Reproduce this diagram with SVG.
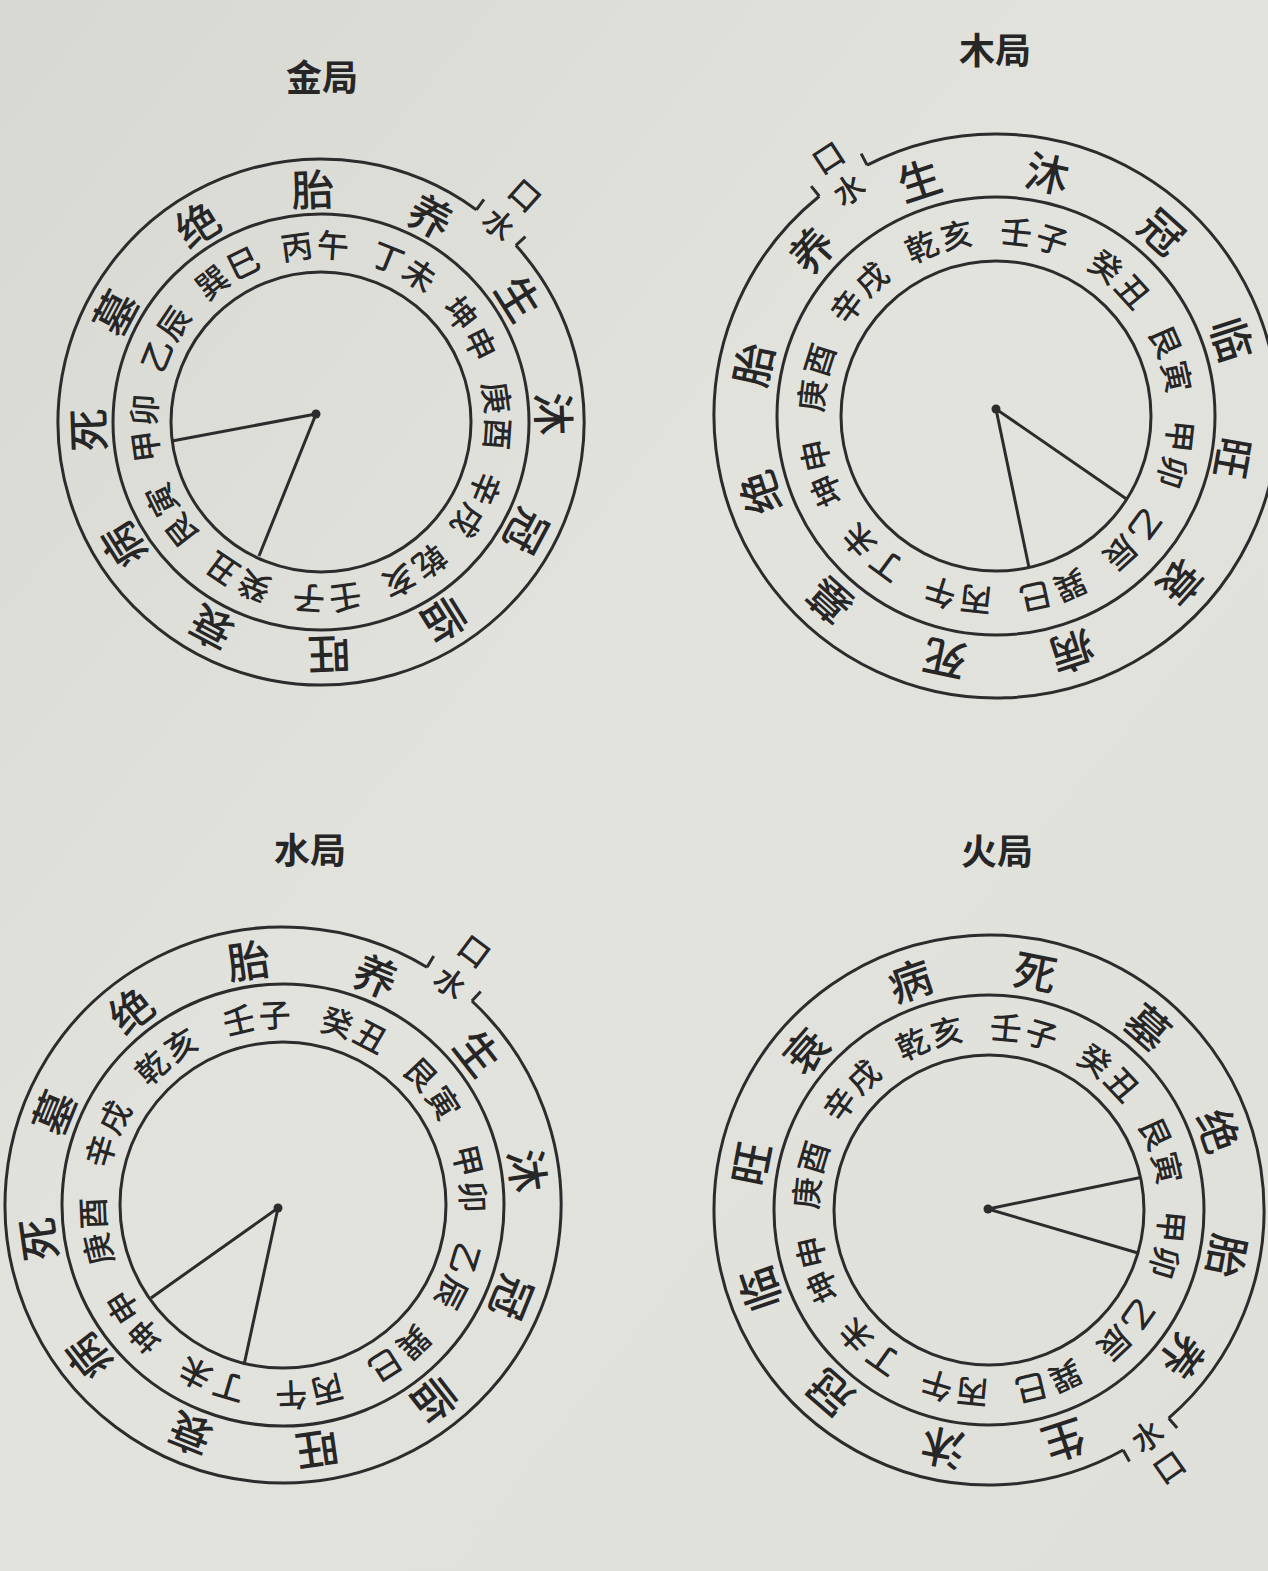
<svg xmlns="http://www.w3.org/2000/svg" width="1268" height="1571" viewBox="0 0 1268 1571">
<defs>
<linearGradient id="paper" x1="0" y1="0" x2="1" y2="1">
<stop offset="0" stop-color="#d7d8d2"/>
<stop offset="0.45" stop-color="#e3e3de"/>
<stop offset="1" stop-color="#e0e0db"/>
</linearGradient>
</defs>
<style>
.t{font-family:"Noto Sans CJK SC","Noto Sans CJK JP",sans-serif;fill:#262626;text-anchor:middle;dominant-baseline:central;font-weight:500}
.title{font-size:36px;font-weight:bold}
.o{font-size:43px}
.i{font-size:32px}
.w{font-size:31px}
.ln{fill:none;stroke:#2c2c2c;stroke-width:3}
.dot{fill:#2c2c2c}
</style>
<rect width="1268" height="1571" fill="url(#paper)"/>

<g id="titles">
<text class="t title" x="322" y="75">金局</text>
<text class="t title" x="995" y="48">木局</text>
<text class="t title" x="310" y="848">水局</text>
<text class="t title" x="997" y="849">火局</text>
</g>

<!-- 金局 -->
<g id="jin" transform="translate(321 422)">
<circle class="ln" r="208"/>
<circle class="ln" r="150"/>
<g id="jin-shuikou" transform="rotate(42)">
<path class="ln" d="M26.58 -261.65A263 263 0 1 1 -26.58 -261.65M26.58 -261.65L27.89 -274.59M-26.58 -261.65L-27.89 -274.59"/>
<text class="t w" transform="translate(0 -268)">水</text>
<text class="t w" transform="translate(0 -307)">口</text>
</g>
<g id="jin-outer">
<text class="t o" transform="rotate(-2) translate(0 -235.5)">胎</text>
<text class="t o" transform="rotate(28) translate(0 -235.5)">养</text>
<text class="t o" transform="rotate(58) translate(0 -235.5)">生</text>
<text class="t o" transform="rotate(88) translate(0 -235.5)">沐</text>
<text class="t o" transform="rotate(118) translate(0 -235.5)">冠</text>
<text class="t o" transform="rotate(148) translate(0 -235.5)">临</text>
<text class="t o" transform="rotate(178) translate(0 -235.5)">旺</text>
<text class="t o" transform="rotate(208) translate(0 -235.5)">衰</text>
<text class="t o" transform="rotate(238) translate(0 -235.5)">病</text>
<text class="t o" transform="rotate(268) translate(0 -235.5)">死</text>
<text class="t o" transform="rotate(298) translate(0 -235.5)">墓</text>
<text class="t o" transform="rotate(328) translate(0 -235.5)">绝</text>
</g>
<g id="jin-inner">
<text class="t i" transform="rotate(-7.9) translate(0 -179)">丙</text>
<text class="t i" transform="rotate(3.9) translate(0 -179)">午</text>
<text class="t i" transform="rotate(22.1) translate(0 -179)">丁</text>
<text class="t i" transform="rotate(33.9) translate(0 -179)">未</text>
<text class="t i" transform="rotate(52.1) translate(0 -179)">坤</text>
<text class="t i" transform="rotate(63.9) translate(0 -179)">申</text>
<text class="t i" transform="rotate(82.1) translate(0 -179)">庚</text>
<text class="t i" transform="rotate(93.9) translate(0 -179)">酉</text>
<text class="t i" transform="rotate(112.1) translate(0 -179)">辛</text>
<text class="t i" transform="rotate(123.9) translate(0 -179)">戌</text>
<text class="t i" transform="rotate(142.1) translate(0 -179)">乾</text>
<text class="t i" transform="rotate(153.9) translate(0 -179)">亥</text>
<text class="t i" transform="rotate(172.1) translate(0 -179)">壬</text>
<text class="t i" transform="rotate(183.9) translate(0 -179)">子</text>
<text class="t i" transform="rotate(202.1) translate(0 -179)">癸</text>
<text class="t i" transform="rotate(213.9) translate(0 -179)">丑</text>
<text class="t i" transform="rotate(232.1) translate(0 -179)">艮</text>
<text class="t i" transform="rotate(243.9) translate(0 -179)">寅</text>
<text class="t i" transform="rotate(262.1) translate(0 -179)">甲</text>
<text class="t i" transform="rotate(273.9) translate(0 -179)">卯</text>
<text class="t i" transform="rotate(292.1) translate(0 -179)">乙</text>
<text class="t i" transform="rotate(303.9) translate(0 -179)">辰</text>
<text class="t i" transform="rotate(322.1) translate(0 -179)">巽</text>
<text class="t i" transform="rotate(333.9) translate(0 -179)">巳</text>
</g>
<g id="jin-lines">
<path class="ln" d="M-149 19L-5 -8L-62 134"/>
<circle class="dot" cx="-5" cy="-8" r="4.5"/>
</g>
</g>

<!-- 木局 -->
<g id="mu" transform="translate(996 416)">
<circle class="ln" r="219"/>
<circle class="ln" r="155"/>
<g id="mu-shuikou" transform="rotate(327)">
<path class="ln" d="M28.50 -280.56A282 282 0 1 1 -28.50 -280.56M28.50 -280.56L29.81 -293.49M-28.50 -280.56L-29.81 -293.49"/>
<text class="t w" transform="translate(0 -272)">水</text>
<text class="t w" transform="translate(0 -310)">口</text>
</g>
<g id="mu-outer">
<text class="t o" transform="rotate(12) translate(0 -250.5)">沐</text>
<text class="t o" transform="rotate(42) translate(0 -250.5)">冠</text>
<text class="t o" transform="rotate(72) translate(0 -250.5)">临</text>
<text class="t o" transform="rotate(100) translate(0 -243)" style="font-size:41px">旺</text>
<text class="t o" transform="rotate(132) translate(0 -250.5)">衰</text>
<text class="t o" transform="rotate(162) translate(0 -250.5)">病</text>
<text class="t o" transform="rotate(192) translate(0 -250.5)">死</text>
<text class="t o" transform="rotate(222) translate(0 -250.5)">墓</text>
<text class="t o" transform="rotate(252) translate(0 -250.5)">绝</text>
<text class="t o" transform="rotate(282) translate(0 -250.5)">胎</text>
<text class="t o" transform="rotate(312) translate(0 -250.5)">养</text>
<text class="t o" transform="rotate(342) translate(0 -250.5)">生</text>
</g>
<g id="mu-inner">
<text class="t i" transform="rotate(6.3) translate(0 -187)">壬</text>
<text class="t i" transform="rotate(17.7) translate(0 -187)">子</text>
<text class="t i" transform="rotate(36.3) translate(0 -187)">癸</text>
<text class="t i" transform="rotate(47.7) translate(0 -187)">丑</text>
<text class="t i" transform="rotate(66.3) translate(0 -187)">艮</text>
<text class="t i" transform="rotate(77.7) translate(0 -187)">寅</text>
<text class="t i" transform="rotate(96.3) translate(0 -187)">甲</text>
<text class="t i" transform="rotate(107.7) translate(0 -187)">卯</text>
<text class="t i" transform="rotate(126.3) translate(0 -187)">乙</text>
<text class="t i" transform="rotate(137.7) translate(0 -187)">辰</text>
<text class="t i" transform="rotate(156.3) translate(0 -187)">巽</text>
<text class="t i" transform="rotate(167.7) translate(0 -187)">巳</text>
<text class="t i" transform="rotate(186.3) translate(0 -187)">丙</text>
<text class="t i" transform="rotate(197.7) translate(0 -187)">午</text>
<text class="t i" transform="rotate(216.3) translate(0 -187)">丁</text>
<text class="t i" transform="rotate(227.7) translate(0 -187)">未</text>
<text class="t i" transform="rotate(246.3) translate(0 -187)">坤</text>
<text class="t i" transform="rotate(257.7) translate(0 -187)">申</text>
<text class="t i" transform="rotate(276.3) translate(0 -187)">庚</text>
<text class="t i" transform="rotate(287.7) translate(0 -187)">酉</text>
<text class="t i" transform="rotate(306.3) translate(0 -187)">辛</text>
<text class="t i" transform="rotate(317.7) translate(0 -187)">戌</text>
<text class="t i" transform="rotate(336.3) translate(0 -187)">乾</text>
<text class="t i" transform="rotate(347.7) translate(0 -187)">亥</text>
</g>
<g id="mu-lines">
<path class="ln" d="M130.5 83L0 -7L33 151.5"/>
<circle class="dot" cx="0" cy="-7" r="4.5"/>
</g>
</g>

<!-- 水局 -->
<g id="shui" transform="translate(283 1205)">
<circle class="ln" r="221"/>
<circle class="ln" r="163"/>
<g id="shui-shuikou" transform="rotate(37)">
<path class="ln" d="M28.09 -276.58A278 278 0 1 1 -28.09 -276.58M28.09 -276.58L29.41 -289.51M-28.09 -276.58L-29.41 -289.51"/>
<text class="t w" transform="translate(0 -280)">水</text>
<text class="t w" transform="translate(0 -320)">口</text>
</g>
<g id="shui-outer">
<text class="t o" transform="rotate(-8) translate(0 -249.5)">胎</text>
<text class="t o" transform="rotate(22) translate(0 -249.5)">养</text>
<text class="t o" transform="rotate(52) translate(0 -249.5)">生</text>
<text class="t o" transform="rotate(82) translate(0 -249.5)">沐</text>
<text class="t o" transform="rotate(112) translate(0 -249.5)">冠</text>
<text class="t o" transform="rotate(142) translate(0 -249.5)">临</text>
<text class="t o" transform="rotate(172) translate(0 -249.5)">旺</text>
<text class="t o" transform="rotate(202) translate(0 -249.5)">衰</text>
<text class="t o" transform="rotate(232) translate(0 -249.5)">病</text>
<text class="t o" transform="rotate(262) translate(0 -249.5)">死</text>
<text class="t o" transform="rotate(292) translate(0 -249.5)">墓</text>
<text class="t o" transform="rotate(322) translate(0 -249.5)">绝</text>
</g>
<g id="shui-inner">
<text class="t i" transform="rotate(-13.5) translate(0 -192)">壬</text>
<text class="t i" transform="rotate(-2.5) translate(0 -192)">子</text>
<text class="t i" transform="rotate(16.5) translate(0 -192)">癸</text>
<text class="t i" transform="rotate(27.5) translate(0 -192)">丑</text>
<text class="t i" transform="rotate(46.5) translate(0 -192)">艮</text>
<text class="t i" transform="rotate(57.5) translate(0 -192)">寅</text>
<text class="t i" transform="rotate(76.5) translate(0 -192)">甲</text>
<text class="t i" transform="rotate(87.5) translate(0 -192)">卯</text>
<text class="t i" transform="rotate(106.5) translate(0 -192)">乙</text>
<text class="t i" transform="rotate(117.5) translate(0 -192)">辰</text>
<text class="t i" transform="rotate(136.5) translate(0 -192)">巽</text>
<text class="t i" transform="rotate(147.5) translate(0 -192)">巳</text>
<text class="t i" transform="rotate(166.5) translate(0 -192)">丙</text>
<text class="t i" transform="rotate(177.5) translate(0 -192)">午</text>
<text class="t i" transform="rotate(196.5) translate(0 -192)">丁</text>
<text class="t i" transform="rotate(207.5) translate(0 -192)">未</text>
<text class="t i" transform="rotate(226.5) translate(0 -192)">坤</text>
<text class="t i" transform="rotate(237.5) translate(0 -192)">申</text>
<text class="t i" transform="rotate(256.5) translate(0 -192)">庚</text>
<text class="t i" transform="rotate(267.5) translate(0 -192)">酉</text>
<text class="t i" transform="rotate(286.5) translate(0 -192)">辛</text>
<text class="t i" transform="rotate(297.5) translate(0 -192)">戌</text>
<text class="t i" transform="rotate(316.5) translate(0 -192)">乾</text>
<text class="t i" transform="rotate(327.5) translate(0 -192)">亥</text>
</g>
<g id="shui-lines">
<path class="ln" d="M-132 93L-5 3L-39 160"/>
<circle class="dot" cx="-5" cy="3" r="4.5"/>
</g>
</g>

<!-- 火局 -->
<g id="huo" transform="translate(989 1210)">
<circle class="ln" r="215"/>
<circle class="ln" r="155"/>
<g id="huo-shuikou" transform="rotate(145)">
<path class="ln" d="M27.79 -273.59A275 275 0 1 1 -27.79 -273.59M27.79 -273.59L29.11 -286.53M-27.79 -273.59L-29.11 -286.53"/>
<text class="t w" transform="translate(0 -274) rotate(180)">水</text>
<text class="t w" transform="translate(0 -312) rotate(180)">口</text>
</g>
<g id="huo-outer">
<text class="t o" transform="rotate(11) translate(0 -245)">死</text>
<text class="t o" transform="rotate(41) translate(0 -245)">墓</text>
<text class="t o" transform="rotate(71) translate(0 -245)">绝</text>
<text class="t o" transform="rotate(101) translate(0 -245)">胎</text>
<text class="t o" transform="rotate(127) translate(0 -245)">养</text>
<text class="t o" transform="rotate(162) translate(0 -245)">生</text>
<text class="t o" transform="rotate(191) translate(0 -245)">沐</text>
<text class="t o" transform="rotate(221) translate(0 -245)">冠</text>
<text class="t o" transform="rotate(251) translate(0 -245)">临</text>
<text class="t o" transform="rotate(281) translate(0 -245)">旺</text>
<text class="t o" transform="rotate(311) translate(0 -245)">衰</text>
<text class="t o" transform="rotate(341) translate(0 -245)">病</text>
</g>
<g id="huo-inner">
<text class="t i" transform="rotate(5.3) translate(0 -185)">壬</text>
<text class="t i" transform="rotate(16.7) translate(0 -185)">子</text>
<text class="t i" transform="rotate(35.3) translate(0 -185)">癸</text>
<text class="t i" transform="rotate(46.7) translate(0 -185)">丑</text>
<text class="t i" transform="rotate(65.3) translate(0 -185)">艮</text>
<text class="t i" transform="rotate(76.7) translate(0 -185)">寅</text>
<text class="t i" transform="rotate(95.3) translate(0 -185)">甲</text>
<text class="t i" transform="rotate(106.7) translate(0 -185)">卯</text>
<text class="t i" transform="rotate(125.3) translate(0 -185)">乙</text>
<text class="t i" transform="rotate(136.7) translate(0 -185)">辰</text>
<text class="t i" transform="rotate(155.3) translate(0 -185)">巽</text>
<text class="t i" transform="rotate(166.7) translate(0 -185)">巳</text>
<text class="t i" transform="rotate(185.3) translate(0 -185)">丙</text>
<text class="t i" transform="rotate(196.7) translate(0 -185)">午</text>
<text class="t i" transform="rotate(215.3) translate(0 -185)">丁</text>
<text class="t i" transform="rotate(226.7) translate(0 -185)">未</text>
<text class="t i" transform="rotate(245.3) translate(0 -185)">坤</text>
<text class="t i" transform="rotate(256.7) translate(0 -185)">申</text>
<text class="t i" transform="rotate(275.3) translate(0 -185)">庚</text>
<text class="t i" transform="rotate(286.7) translate(0 -185)">酉</text>
<text class="t i" transform="rotate(305.3) translate(0 -185)">辛</text>
<text class="t i" transform="rotate(316.7) translate(0 -185)">戌</text>
<text class="t i" transform="rotate(335.3) translate(0 -185)">乾</text>
<text class="t i" transform="rotate(346.7) translate(0 -185)">亥</text>
</g>
<g id="huo-lines">
<path class="ln" d="M151.5 -32.5L-1 -1L149 43"/>
<circle class="dot" cx="-1" cy="-1" r="4.5"/>
</g>
</g>
</svg>
